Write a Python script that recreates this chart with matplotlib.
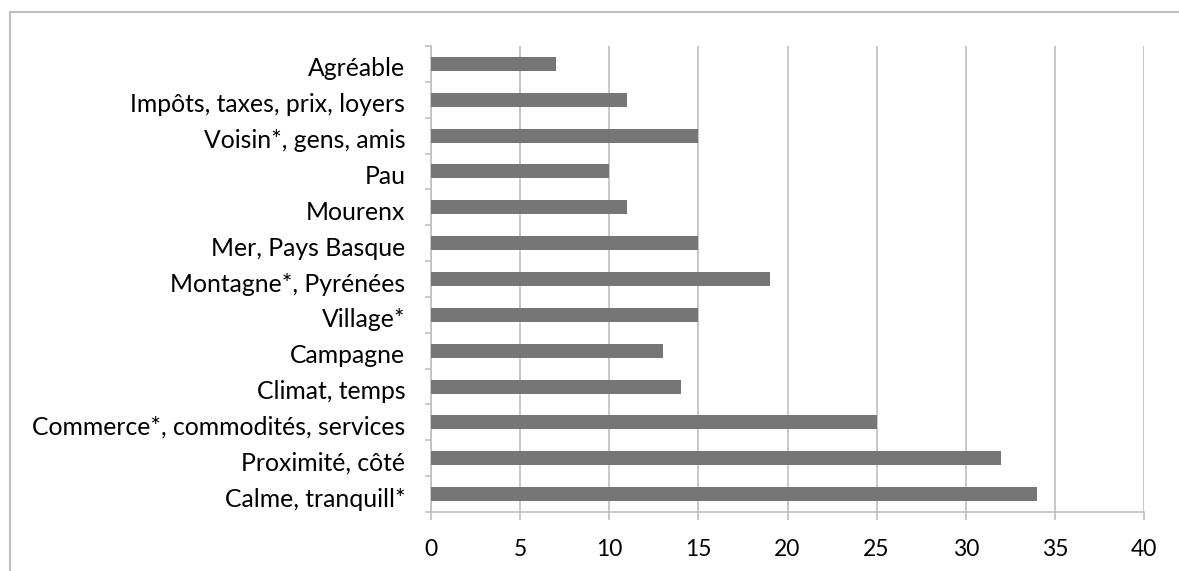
import matplotlib
matplotlib.use("Agg")
import matplotlib.pyplot as plt
from matplotlib.patches import Rectangle
from matplotlib.transforms import ScaledTranslation
import numpy as np

categories = ["Calme, tranquill*", "Proximité, côté", "Commerce*, commodités, services",
              "Climat, temps", "Campagne", "Village*", "Montagne*, Pyrénées",
              "Mer, Pays Basque", "Mourenx", "Pau", "Voisin*, gens, amis",
              "Impôts, taxes, prix, loyers", "Agréable"]
values = [34, 32, 25, 14, 13, 15, 19, 15, 11, 10, 15, 11, 7]
xticks = [0, 5, 10, 15, 20, 25, 30, 35, 40]

plt.rcParams['font.family'] = ['Lato', 'DejaVu Sans']

W, H = 1179, 571
fig = plt.figure(figsize=(W/100, H/100), dpi=100)
ax = fig.add_axes([431/W, 1-512/H, (1144-431)/W, (512-46)/H])

grid_c = "#BFBFBF"
y = np.arange(len(categories))
ax.barh(y, values, height=0.39, color="#767676", zorder=3)
ax.set_xlim(0, 40)
ax.set_ylim(-0.5, len(categories)-0.5)
ax.set_xticks(xticks)
ax.set_xticklabels([str(t) for t in xticks], fontsize=16.5)
ax.set_yticks(y)
ax.set_yticklabels(categories, fontsize=17.8)
ax.set_yticks(np.arange(-0.5, len(categories), 1), minor=True)
ax.tick_params(axis='y', which='major', length=0, pad=18.5)
ax.tick_params(axis='y', which='minor', length=4.5, color=grid_c, width=1.2, direction='out')
ax.tick_params(axis='x', which='major', length=6, color=grid_c, width=1.2, pad=13.5)
ax.xaxis.grid(True, color=grid_c, linewidth=1.2, zorder=0)
for s in ['top', 'right']:
    ax.spines[s].set_visible(False)
for s in ['left', 'bottom']:
    ax.spines[s].set_color(grid_c)
    ax.spines[s].set_linewidth(1.2)

shift = ScaledTranslation(0, -3/100, fig.dpi_scale_trans)
for lbl in ax.get_yticklabels():
    lbl.set_transform(lbl.get_transform() + shift)

fig.patches.append(Rectangle((10/W, -0.1), 1.2, 1 - 12/H + 0.1, transform=fig.transFigure,
                             fill=False, edgecolor="#BFBFBF", linewidth=1.5))

fig.savefig("out.png", dpi=100)
